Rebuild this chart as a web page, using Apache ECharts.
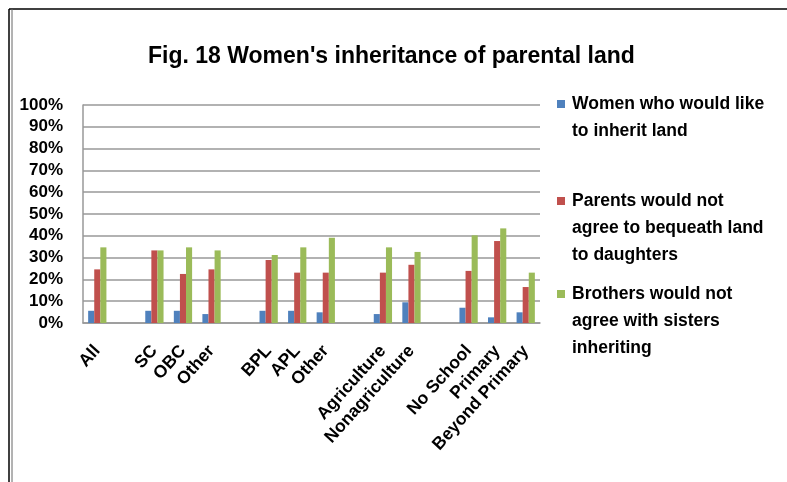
<!DOCTYPE html>
<html>
<head>
<meta charset="utf-8">
<script src="https://cdn.jsdelivr.net/npm/echarts@6/dist/echarts.min.js"></script>
<style>
  html, body { margin: 0; padding: 0; background: #fff; }
  #chart { width: 787px; height: 482px; }
</style>
</head>
<body>
<div id="chart"></div>
<script>
  // categories, empty strings are the gaps between groups
  var categories = ['All', '', 'SC', 'OBC', 'Other', '', 'BPL', 'APL', 'Other', '',
    'Agriculture', 'Nonagriculture', '', 'No School', 'Primary', 'Beyond Primary']
  var womenLike = [5.6, null, 5.6, 5.6, 4.1, null, 5.6, 5.6, 4.9, null, 4.1, 9.5, null, 7.0, 2.6, 4.9]
  var parentsNot = [24.6, null, 33.3, 22.5, 24.6, null, 28.9, 23.1, 23.1, null, 23.1, 26.7, null, 23.9, 37.6, 16.5]
  var brothersNot = [34.7, null, 33.3, 34.7, 33.3, null, 31.2, 34.7, 39.1, null, 34.7, 32.6, null, 40.2, 43.4, 23.1]
  var seriesNames = ['Women who would like\nto inherit land',
    'Parents would not\nagree to bequeath land\nto daughters',
    'Brothers would not\nagree with sisters\ninheriting']
  var colors = ['#4F81BD', '#C0504D', '#9BBB59']

  var font = '"Liberation Sans", Arial, sans-serif'
  var lineH = 27
  var chart = echarts.init(document.getElementById('chart'))

  // icon box as tall as the text so the square sits next to the first line
  function legendFor(i, top, lines) {
    var h = lines * lineH
    return {
      orient: 'vertical',
      left: 552,
      top: top,
      icon: 'path://M0,0L0,0M0,9h8v8h-8zM0,' + h + 'L0,' + h,
      itemWidth: 8,
      itemHeight: h,
      itemGap: 0,
      data: [seriesNames[i]],
      selectedMode: false,
      textStyle: { fontFamily: font, fontWeight: 'bold', fontSize: 17.5, color: '#000', lineHeight: lineH, padding: [0, 0, 0, 2] }
    }
  }

  var option = {
    animation: false,
    color: colors,
    title: {
      text: "Fig. 18 Women's inheritance of parental land",
      left: 143,
      top: 40,
      textStyle: { fontFamily: font, fontWeight: 'bold', fontSize: 23, color: '#000' }
    },
    legend: [legendFor(0, 86, 2), legendFor(1, 183, 3), legendFor(2, 276, 3)],
    grid: { left: 83, right: 247, top: 105, bottom: 159 },
    xAxis: {
      type: 'category',
      data: categories,
      axisLine: { lineStyle: { color: '#999', width: 1.5 } },
      axisTick: { show: false },
      axisLabel: {
        interval: 0,
        rotate: 48,
        margin: 25,
        fontFamily: font,
        fontWeight: 'bold',
        fontSize: 17.5,
        color: '#000'
      }
    },
    yAxis: {
      type: 'value',
      min: 0,
      max: 100,
      interval: 10,
      axisLine: { show: true, lineStyle: { color: '#999', width: 1.5 } },
      axisTick: { show: false },
      splitLine: { lineStyle: { color: '#999', width: 1.5 } },
      axisLabel: {
        formatter: '{value}%',
        margin: 20,
        fontFamily: font,
        fontWeight: 'bold',
        fontSize: 17,
        color: '#000'
      }
    },
    graphic: [
      { type: 'line', shape: { x1: 9, y1: 9, x2: 787, y2: 9 }, style: { stroke: '#000', lineWidth: 1.5 } },
      { type: 'line', shape: { x1: 9, y1: 9, x2: 9, y2: 482 }, style: { stroke: '#000', lineWidth: 1.5 } },
      { type: 'line', shape: { x1: 12, y1: 9, x2: 12, y2: 482 }, style: { stroke: '#666', lineWidth: 1 } }
    ],
    series: [
      { name: seriesNames[0], type: 'bar', data: womenLike, barGap: '0%', barCategoryGap: '36%' },
      { name: seriesNames[1], type: 'bar', data: parentsNot, barGap: '0%', barCategoryGap: '36%' },
      { name: seriesNames[2], type: 'bar', data: brothersNot, barGap: '0%', barCategoryGap: '36%' }
    ]
  }
  chart.setOption(option)
</script>
</body>
</html>
